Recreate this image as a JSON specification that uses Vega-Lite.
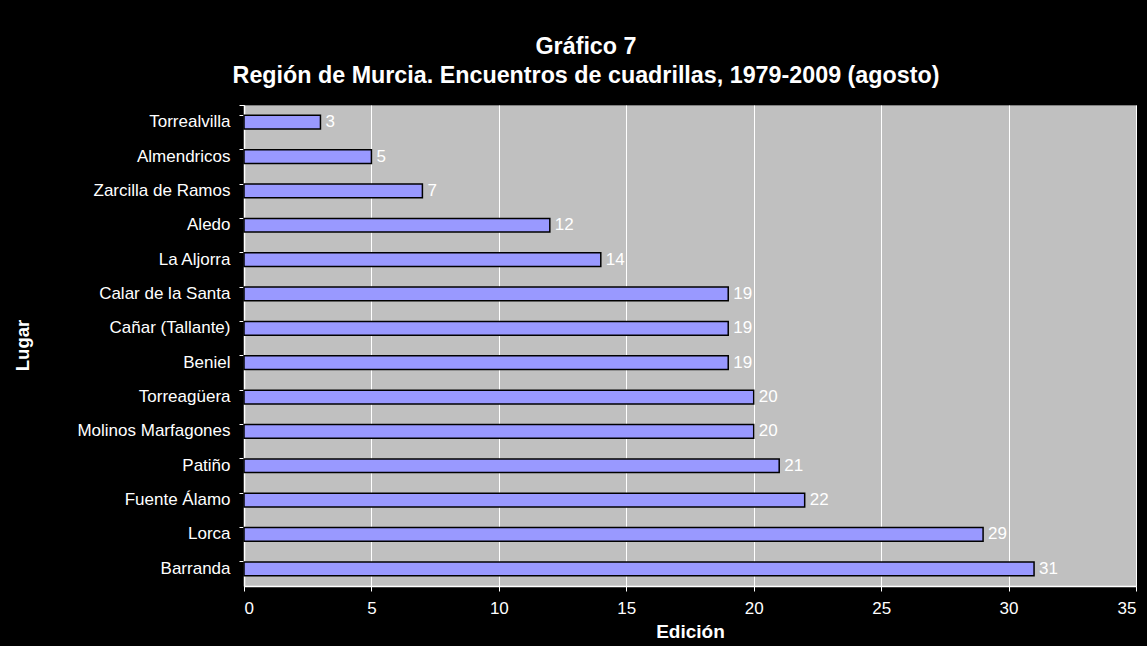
{
  "$schema": "https://vega.github.io/schema/vega-lite/v6.json",
  "width": 892,
  "height": 481,
  "autosize": {"type": "none"},
  "padding": {"left": 244, "top": 105, "right": 11, "bottom": 60},
  "background": "#000000",
  "title": {
    "text": ["Gráfico 7", "Región de Murcia. Encuentros de cuadrillas, 1979-2009 (agosto)"],
    "font": "Liberation Sans",
    "fontSize": 23.3,
    "fontWeight": "bold",
    "color": "#ffffff",
    "anchor": "middle",
    "frame": "group",
    "dx": -104,
    "offset": 8,
    "lineHeight": 29
  },
  "config": {
    "view": {"fill": "#c0c0c0", "stroke": "#808080", "strokeWidth": 1},
    "font": "Liberation Sans"
  },
  "data": {
    "values": [
      {"lugar": "Torrealvilla", "edicion": 3},
      {"lugar": "Almendricos", "edicion": 5},
      {"lugar": "Zarcilla de Ramos", "edicion": 7},
      {"lugar": "Aledo", "edicion": 12},
      {"lugar": "La Aljorra", "edicion": 14},
      {"lugar": "Calar de la Santa", "edicion": 19},
      {"lugar": "Cañar (Tallante)", "edicion": 19},
      {"lugar": "Beniel", "edicion": 19},
      {"lugar": "Torreagüera", "edicion": 20},
      {"lugar": "Molinos Marfagones", "edicion": 20},
      {"lugar": "Patiño", "edicion": 21},
      {"lugar": "Fuente Álamo", "edicion": 22},
      {"lugar": "Lorca", "edicion": 29},
      {"lugar": "Barranda", "edicion": 31}
    ]
  },
  "encoding": {
    "y": {
      "field": "lugar",
      "type": "nominal",
      "sort": ["Torrealvilla", "Almendricos", "Zarcilla de Ramos", "Aledo", "La Aljorra", "Calar de la Santa", "Cañar (Tallante)", "Beniel", "Torreagüera", "Molinos Marfagones", "Patiño", "Fuente Álamo", "Lorca", "Barranda"],
      "scale": {"paddingInner": 0.6, "paddingOuter": 0.3},
      "axis": {
        "title": "Lugar",
        "titleColor": "#ffffff",
        "titleFont": "Liberation Sans",
        "titleFontSize": 18.5,
        "titleFontWeight": "bold",
        "titleX": -222,
        "titleY": 240,
        "titleAngle": -90,
        "titleAlign": "center",
        "titleBaseline": "middle",
        "labelColor": "#ffffff",
        "labelFont": "Liberation Sans",
        "labelFontSize": 17,
        "labelPadding": 9,
        "domainColor": "#ffffff",
        "domainWidth": 1.5,
        "tickColor": "#ffffff",
        "tickSize": 5,
        "bandPosition": 0,
        "tickExtra": true,
        "grid": false
      }
    },
    "x": {
      "field": "edicion",
      "type": "quantitative",
      "scale": {"domain": [0, 35]},
      "axis": {
        "title": "Edición",
        "values": [0, 5, 10, 15, 20, 25, 30, 35],
        "titleColor": "#ffffff",
        "titleFont": "Liberation Sans",
        "titleFontSize": 19,
        "titleFontWeight": "bold",
        "titlePadding": 6,
        "labelColor": "#ffffff",
        "labelFont": "Liberation Sans",
        "labelFontSize": 17,
        "labelPadding": 9,
        "domainColor": "#ffffff",
        "domainWidth": 1.5,
        "tickColor": "#ffffff",
        "tickSize": 5,
        "grid": true,
        "gridColor": "#ffffff",
        "gridWidth": 1,
        "gridOpacity": 1
      }
    }
  },
  "layer": [
    {
      "mark": {"type": "bar", "color": "#9999ff", "stroke": "#000000", "strokeWidth": 1.5}
    },
    {
      "mark": {"type": "text", "align": "left", "baseline": "middle", "dx": 5, "color": "#ffffff", "fontSize": 17, "font": "Liberation Sans"},
      "encoding": {"text": {"field": "edicion", "type": "quantitative"}}
    }
  ]
}
